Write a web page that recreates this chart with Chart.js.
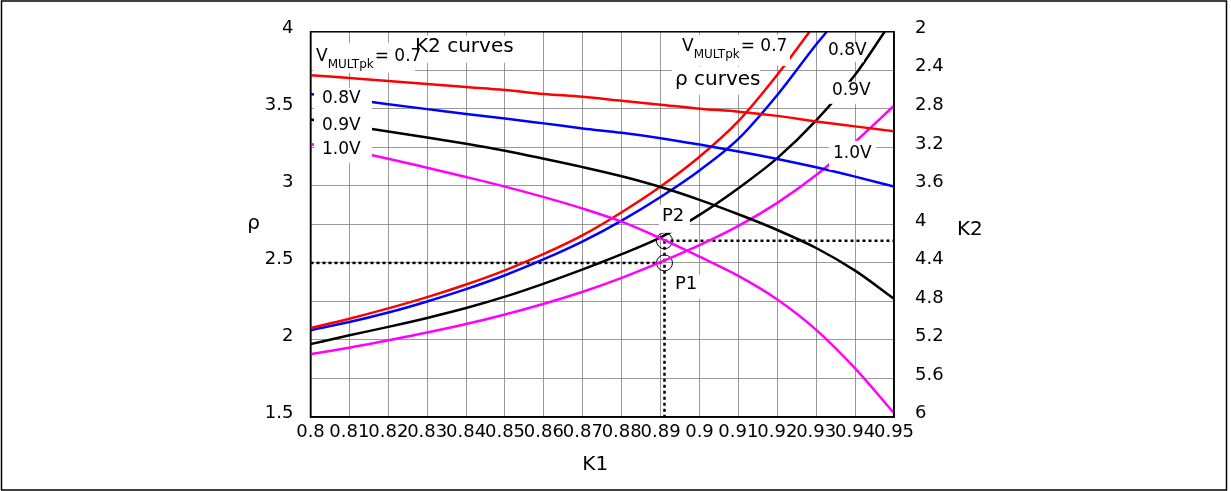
<!DOCTYPE html>
<html>
<head>
<meta charset="utf-8">
<script src="https://cdn.jsdelivr.net/npm/chart.js@4.4.0/dist/chart.umd.min.js"></script>
<style>
  html, body { margin: 0; padding: 0; background: #fff; }
  #wrap { width: 1231px; height: 491px; position: relative; }
</style>
</head>
<body>
<div id="wrap"><canvas id="chart"></canvas></div>
<script>
// K1 samples and axis ticks
var k1Values = [0.80, 0.81, 0.82, 0.83, 0.84, 0.85, 0.86, 0.87, 0.88, 0.89, 0.90, 0.91, 0.92, 0.93, 0.94, 0.95];
var k1Ticks = [0.8, 0.81, 0.82, 0.83, 0.84, 0.85, 0.86, 0.87, 0.88, 0.89, 0.9, 0.91, 0.92, 0.93, 0.94, 0.95];
var rhoTicks = [1.5, 2, 2.5, 3, 3.5, 4];
var k2Ticks = [2, 2.4, 2.8, 3.2, 3.6, 4, 4.4, 4.8, 5.2, 5.6, 6];

// rho curves (left axis), values at k1Values; curve leaves the top (rho = 4) at rhoTopK1
var rho07 = [2.077, 2.138, 2.205, 2.278, 2.360, 2.452, 2.558, 2.680, 2.829, 2.996, 3.189, 3.420, 3.721];
var rho08 = [2.063, 2.116, 2.178, 2.250, 2.330, 2.420, 2.524, 2.640, 2.775, 2.928, 3.100, 3.305, 3.590, 3.918];
var rho09 = [1.973, 2.030, 2.085, 2.143, 2.207, 2.281, 2.366, 2.458, 2.557, 2.666, 2.812, 2.985, 3.180, 3.425, 3.721];
var rho10 = [1.909, 1.950, 1.998, 2.048, 2.103, 2.165, 2.235, 2.313, 2.403, 2.505, 2.615, 2.740, 2.890, 3.070, 3.285, 3.520];
var rhoTopK1 = [0.9283, 0.9327, 0.9476, null];

// K2 curves (right axis, reversed)
var k2_07 = [2.450, 2.481, 2.512, 2.542, 2.573, 2.604, 2.645, 2.675, 2.716, 2.757, 2.798, 2.829, 2.873, 2.931, 2.982, 3.033];
var k2_08 = [2.645, 2.701, 2.752, 2.803, 2.854, 2.900, 2.951, 3.003, 3.049, 3.105, 3.171, 3.243, 3.320, 3.407, 3.504, 3.606];
var k2_09 = [2.910, 2.972, 3.035, 3.098, 3.163, 3.235, 3.318, 3.405, 3.500, 3.612, 3.745, 3.895, 4.058, 4.245, 4.480, 4.772];
var k2_10 = [3.166, 3.236, 3.318, 3.412, 3.508, 3.608, 3.717, 3.836, 3.972, 4.145, 4.335, 4.535, 4.780, 5.095, 5.495, 5.960];

// operating points
var pointK1 = 0.891;
var p1Rho = 2.5;
var p2K2 = 4.17;

var colors = ['#ff0000', '#0000ff', '#000000', '#ff00ff'];

function curve(values, topK1) {
    var pts = values.map(function(v, i) { return {x: k1Values[i], y: v}; });
    if (topK1) pts.push({x: topK1, y: 4});
    return pts;
}

function line(data, color, axis) {
    return {
        data: data, yAxisID: axis, borderColor: color, borderWidth: 2.5,
        pointRadius: 0, cubicInterpolationMode: 'monotone', fill: false
    };
}

function dashed(data, axis) {
    return {
        data: data, yAxisID: axis, borderColor: '#000', borderWidth: 2.5,
        borderDash: [3, 3], pointRadius: 0, fill: false, tension: 0
    };
}

function marker(data, axis) {
    return {
        data: data, yAxisID: axis, showLine: false, pointRadius: 8,
        pointBorderColor: '#000', pointBorderWidth: 1, pointBackgroundColor: 'rgba(0,0,0,0)'
    };
}

var datasets = [
    line(curve(k2_07), colors[0], 'y1'),
    line(curve(k2_08), colors[1], 'y1'),
    line(curve(k2_09), colors[2], 'y1'),
    line(curve(k2_10), colors[3], 'y1'),
    line(curve(rho07, rhoTopK1[0]), colors[0], 'y'),
    line(curve(rho08, rhoTopK1[1]), colors[1], 'y'),
    line(curve(rho09, rhoTopK1[2]), colors[2], 'y'),
    line(curve(rho10, rhoTopK1[3]), colors[3], 'y'),
    dashed([{x: 0.8, y: p1Rho}, {x: pointK1, y: p1Rho}], 'y'),
    dashed([{x: pointK1, y: p2K2}, {x: 0.95, y: p2K2}], 'y1'),
    dashed([{x: pointK1, y: p2K2}, {x: pointK1, y: 6}], 'y1'),
    marker([{x: pointK1, y: p1Rho}], 'y'),
    marker([{x: pointK1, y: p2K2}], 'y1')
];

// white boxes behind the text labels [x, y, w, h], pixels from chart area top-left
var boxes = [
    [2.5, 11, 102, 30], [102.5, 4, 107, 27], [3.5, 56, 58, 75],
    [367.5, 3, 112, 31], [361.5, 35, 88, 28],
    [515.5, 12, 38, 18], [518.5, 50, 44, 22], [518.5, 109, 47, 29],
    [348.5, 173, 31, 28], [361.5, 243, 28, 24]
];

var FONT = 'DejaVu Sans';

function text(ctx, s, x, y, size) {
    ctx.font = size + 'px "' + FONT + '"';
    ctx.fillText(s, x, y);
    return ctx.measureText(s).width;
}

function vmult(ctx, x, y) {
    x += text(ctx, 'V', x, y, 17);
    x += text(ctx, 'MULTpk', x, y + 8, 12);
    text(ctx, '= 0.7', x + 1, y, 17);
}

var labelsPlugin = {
    id: 'labels',
    afterDatasetsDraw: function(chart) {
        var ctx = chart.ctx;
        var a = chart.chartArea;
        ctx.save();
        ctx.fillStyle = '#fff';
        boxes.forEach(function(b) { ctx.fillRect(a.left + b[0], a.top + b[1], b[2], b[3]); });

        ctx.strokeStyle = '#000';
        ctx.lineWidth = 1.5;
        ctx.strokeRect(a.left, a.top, a.right - a.left, a.bottom - a.top);

        ctx.fillStyle = '#000';
        ctx.textBaseline = 'middle';
        ctx.textAlign = 'left';
        var L = a.left, T = a.top - 2;
        vmult(ctx, L + 5.5, T + 27);
        text(ctx, 'K2 curves', L + 104.5, T + 17, 20);
        text(ctx, '0.8V', L + 11.5, T + 69, 17);
        text(ctx, '0.9V', L + 11.5, T + 96, 17);
        text(ctx, '1.0V', L + 11.5, T + 120, 17);
        vmult(ctx, L + 371.5, T + 17);
        text(ctx, 'ρ curves', L + 364.5, T + 50, 20);
        text(ctx, '0.8V', L + 517.5, T + 21, 17);
        text(ctx, '0.9V', L + 521.5, T + 61, 17);
        text(ctx, '1.0V', L + 522.5, T + 124, 17);
        text(ctx, 'P2', L + 351.5, T + 187, 18);
        text(ctx, 'P1', L + 364.5, T + 255, 18);

        // axis titles
        ctx.textAlign = 'center';
        text(ctx, 'ρ', L - 57, (a.top + a.bottom) / 2 - 1, 20);
        text(ctx, 'K1', (a.left + a.right) / 2 - 7, a.bottom + 48, 20);
        ctx.textAlign = 'left';
        text(ctx, 'K2', a.right + 63, (a.top + a.bottom) / 2 + 5, 20);

        // outer frame
        ctx.lineWidth = 1.5;
        ctx.strokeRect(1.5, 1, 1225, 489);
        ctx.restore();
    }
};

function setTicks(values) {
    return function(scale) {
        scale.ticks = values.map(function(v) { return {value: v}; });
    };
}

Chart.defaults.font.family = FONT;
Chart.defaults.font.size = 18;
Chart.defaults.color = '#000';

var grid = { color: 'rgba(120,120,120,0.75)', lineWidth: 1, drawTicks: false, tickLength: 0 };

new Chart(document.getElementById('chart'), {
    type: 'line',
    data: { datasets: datasets },
    plugins: [labelsPlugin],
    options: {
        responsive: true,
        maintainAspectRatio: false,
        animation: false,
        layout: { padding: { left: 0, right: 0, top: 26, bottom: 0 } },
        plugins: { legend: { display: false }, tooltip: { enabled: false } },
        scales: {
            x: {
                type: 'linear', min: 0.8, max: 0.95,
                afterBuildTicks: setTicks(k1Ticks),
                afterFit: function(s) { s.height = 74; },
                grid: grid,
                border: { color: '#000', width: 1.5 },
                ticks: {
                    autoSkip: false, maxRotation: 0, minRotation: 0, padding: 5,
                    font: { size: 18 },
                    callback: function(v) { return String(v); }
                }
            },
            y: {
                type: 'linear', position: 'left', min: 1.5, max: 4,
                afterBuildTicks: setTicks(rhoTicks),
                afterFit: function(s) { s.width = 310.5; },
                grid: { display: false, drawTicks: false, tickLength: 0 },
                border: { color: '#000', width: 1.5 },
                ticks: { padding: 17, labelOffset: -3.5, font: { size: 18 }, callback: function(v) { return String(v); } }
            },
            y1: {
                type: 'linear', position: 'right', min: 2, max: 6, reverse: true,
                afterBuildTicks: setTicks(k2Ticks),
                afterFit: function(s) { s.width = 337; },
                grid: grid,
                border: { color: '#000', width: 1.5 },
                ticks: { padding: 21, labelOffset: -3.5, font: { size: 18 }, callback: function(v) { return String(v); } }
            }
        }
    }
});
</script>
</body>
</html>
